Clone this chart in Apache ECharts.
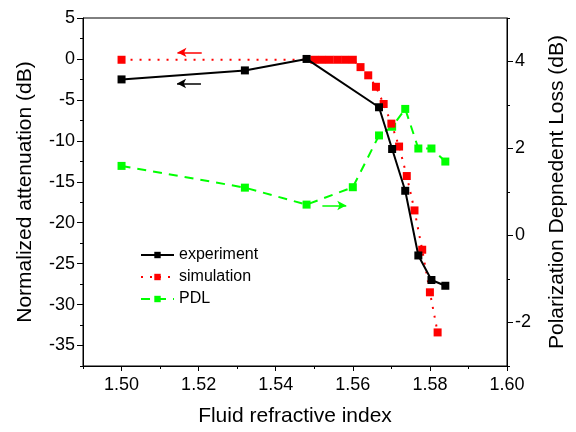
<!DOCTYPE html>
<html><head><meta charset="utf-8">
<script src="https://cdn.jsdelivr.net/npm/echarts@6/dist/echarts.min.js"></script>
<style>html,body{margin:0;padding:0;background:#fff}#c{width:576px;height:432px}</style>
</head><body><div id="c"></div>
<script>
// ---- data ----
const expX = [1.500, 1.532, 1.548, 1.5668, 1.5702, 1.5736, 1.5770, 1.5804, 1.5840];
const expY = [-2.5, -1.4, 0.0, -5.9, -11.0, -16.1, -24.0, -27.0, -27.7];
const simX = [1.500, 1.550, 1.552, 1.554, 1.556, 1.558, 1.560, 1.562, 1.564, 1.566, 1.568, 1.570, 1.572, 1.574, 1.576, 1.578, 1.580, 1.582];
const simY = [-0.1, -0.1, -0.1, -0.1, -0.1, -0.1, -0.1, -1.0, -2.0, -3.4, -5.5, -7.9, -10.7, -14.3, -18.5, -23.3, -28.5, -33.4];
const pdlX = [1.500, 1.532, 1.548, 1.560, 1.5668, 1.5702, 1.5736, 1.5770, 1.5804, 1.5840];
const pdlY = [1.60, 1.10, 0.71, 1.11, 2.30, 2.50, 2.91, 2.00, 2.00, 1.70];
const seriesNames = ['experiment', 'simulation', 'PDL'];
// axis ticks
const xLabels = [1.50, 1.52, 1.54, 1.56, 1.58, 1.60];
const xMinor = [1.49, 1.51, 1.53, 1.55, 1.57, 1.59];
const leftLabels = [5, 0, -5, -10, -15, -20, -25, -30, -35];
const leftMinor = [2.5, -2.5, -7.5, -12.5, -17.5, -22.5, -27.5, -32.5, -37.5];
const rightLabels = [4, 2, 0, -2];
const rightMinor = [5, 3, 1, -1, -3];
// direction arrows (data space): [x start, x end], y
const redArrowX = [1.5208, 1.5145], redArrowY = 0.8;
const blackArrowX = [1.5206, 1.5144], blackArrowY = -3.0;
const greenArrowX = [1.5521, 1.5583], greenArrowY = 0.69;

const FONT = "'Liberation Sans', Arial, sans-serif";
const zip = (a, b) => a.map((v, i) => [v, b[i]]);
const arrow = (xs, y, color) => ({
  silent: true, animation: false, symbol: ['none', 'arrow'], symbolSize: [7, 9],
  label: { show: false }, emphasis: { disabled: true },
  lineStyle: { color: color, type: 'solid', width: 1.5 },
  data: [[{ coord: [xs[0], y] }, { coord: [xs[1], y] }]]
});

const chart = echarts.init(document.getElementById('c'), null, { renderer: 'canvas' });
chart.setOption({
  animation: false,
  textStyle: { fontFamily: FONT },
  grid: { left: 83, right: 59, top: 18, bottom: 63, show: true, borderColor: '#000', borderWidth: 1, backgroundColor: 'transparent' },
  legend: {
    data: seriesNames, orient: 'vertical', left: 140, top: 247, padding: 0,
    itemWidth: 33, itemHeight: 8, itemGap: 6,
    textStyle: { fontSize: 16, color: '#000', fontFamily: FONT }
  },
  xAxis: [{
    type: 'value', min: 1.49, max: 1.60, position: 'bottom',
    name: 'Fluid refractive index', nameLocation: 'middle', nameGap: 40,
    nameTextStyle: { fontSize: 21, color: '#000', fontFamily: FONT },
    axisLine: { show: true, onZero: false, lineStyle: { color: '#000', width: 1 } },
    axisTick: { show: true, customValues: xLabels, length: 5, lineStyle: { color: '#000' } },
    axisLabel: { customValues: xLabels, formatter: v => v.toFixed(2), fontSize: 18, color: '#000', margin: 10, fontFamily: FONT },
    splitLine: { show: false }
  }, {
    type: 'value', min: 1.49, max: 1.60, position: 'bottom',
    axisLine: { show: false, onZero: false },
    axisTick: { show: true, customValues: xMinor, length: 3, lineStyle: { color: '#000' } },
    axisLabel: { show: false }, splitLine: { show: false }
  }],
  yAxis: [{
    type: 'value', min: -37.5, max: 5, position: 'left',
    name: 'Normalized attenuation (dB)', nameLocation: 'middle', nameRotate: 90, nameGap: 47,
    nameTextStyle: { fontSize: 21, color: '#000', fontFamily: FONT },
    axisLine: { show: true, onZero: false, lineStyle: { color: '#000', width: 1 } },
    axisTick: { show: true, customValues: leftLabels, length: 6, lineStyle: { color: '#000' } },
    axisLabel: { customValues: leftLabels, fontSize: 18, color: '#000', margin: 8, fontFamily: FONT },
    splitLine: { show: false }
  }, {
    type: 'value', min: -3, max: 5, position: 'right',
    name: 'Polarization Depnedent Loss (dB)', nameLocation: 'middle', nameRotate: 90, nameGap: 40,
    nameTextStyle: { fontSize: 21, color: '#000', fontFamily: FONT },
    axisLine: { show: true, onZero: false, lineStyle: { color: '#000', width: 1 } },
    axisTick: { show: true, customValues: rightLabels, length: 6, lineStyle: { color: '#000' } },
    axisLabel: { customValues: rightLabels, fontSize: 18, color: '#000', margin: 8, fontFamily: FONT },
    splitLine: { show: false }
  }, {
    type: 'value', min: -37.5, max: 5, position: 'left',
    axisLine: { show: false, onZero: false },
    axisTick: { show: true, customValues: leftMinor, length: 3, lineStyle: { color: '#000' } },
    axisLabel: { show: false }, splitLine: { show: false }
  }, {
    type: 'value', min: -3, max: 5, position: 'right',
    axisLine: { show: false, onZero: false },
    axisTick: { show: true, customValues: rightMinor, length: 3, lineStyle: { color: '#000' } },
    axisLabel: { show: false }, splitLine: { show: false }
  }],
  series: [{
    name: seriesNames[0], type: 'line', xAxisIndex: 0, yAxisIndex: 0, z: 4,
    data: zip(expX, expY), symbol: 'rect', symbolSize: 8,
    itemStyle: { color: '#000' }, lineStyle: { color: '#000', width: 2 },
    markLine: arrow(blackArrowX, blackArrowY, '#000')
  }, {
    name: seriesNames[1], type: 'line', xAxisIndex: 0, yAxisIndex: 0, z: 3,
    data: zip(simX, simY), symbol: 'rect', symbolSize: 8,
    itemStyle: { color: '#ff0000' }, lineStyle: { color: '#ff0000', width: 2, type: [2, 7] },
    markLine: arrow(redArrowX, redArrowY, '#ff0000')
  }, {
    name: seriesNames[2], type: 'line', xAxisIndex: 0, yAxisIndex: 1, z: 2,
    data: zip(pdlX, pdlY), symbol: 'rect', symbolSize: 8,
    itemStyle: { color: '#00ff00' }, lineStyle: { color: '#00ff00', width: 2, type: [9, 7] },
    markLine: arrow(greenArrowX, greenArrowY, '#00ff00')
  }]
});
</script>
</body></html>
